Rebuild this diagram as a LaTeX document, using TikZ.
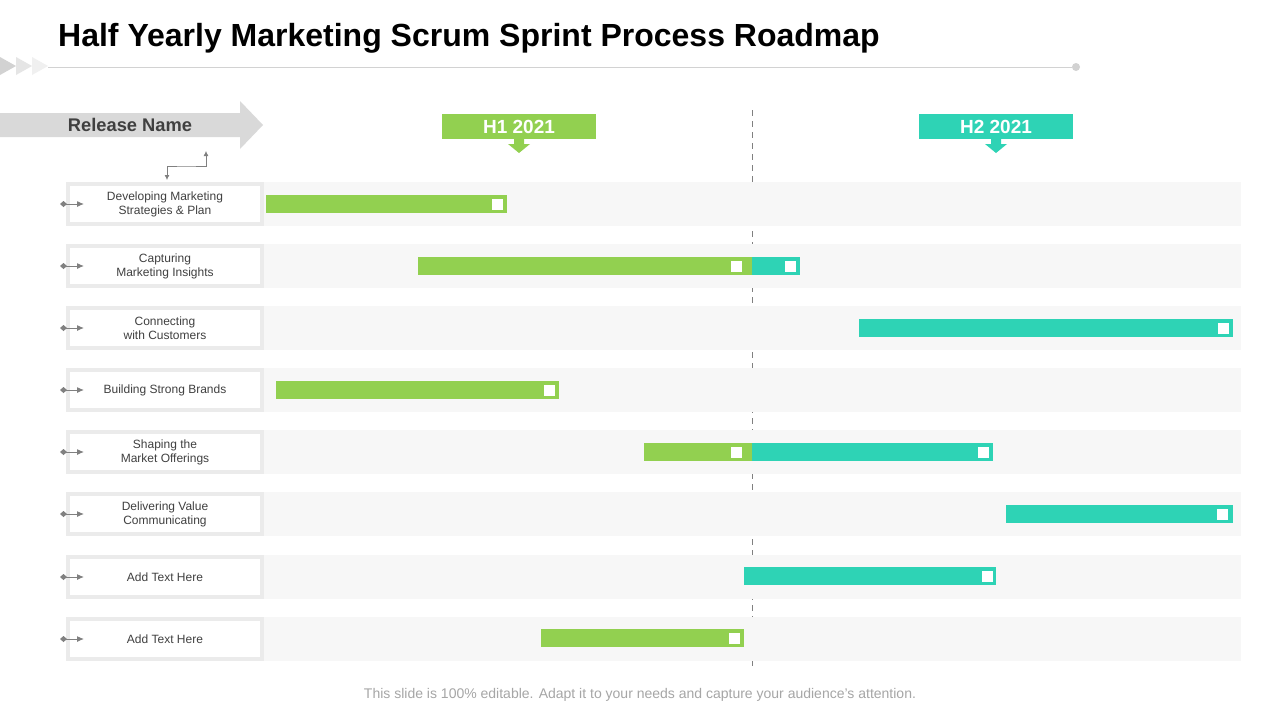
\documentclass[tikz,border=0pt]{standalone}
\usepackage{fontspec}
\setmainfont{Liberation Sans}
\usetikzlibrary{arrows.meta}
\definecolor{hgreen}{HTML}{92D050}
\definecolor{hteal}{HTML}{2ED3B5}
\definecolor{bandgray}{HTML}{F7F7F7}
\definecolor{boxline}{HTML}{EBEBEB}
\definecolor{icongray}{HTML}{808080}
\definecolor{txtgray}{HTML}{404040}
\definecolor{headgray}{HTML}{D9D9D9}
\begin{document}
\begin{tikzpicture}[x=1pt,y=-1pt,
  labelbox/.style={draw=boxline,line width=4pt,fill=white,minimum width=194pt,minimum height=40pt,
    align=center,text=txtgray,font=\fontsize{12}{14}\selectfont,inner sep=0pt},
  iconarrow/.style={draw=icongray,line width=1pt,{Diamond[length=7pt,width=6pt]}-{Latex[length=7pt,width=6pt]}},
  band/.style={fill=bandgray},
  sq/.style={fill=white,minimum size=11pt,inner sep=0pt},
  halfbox/.style={minimum width=154pt,minimum height=25pt,inner sep=0pt,text=white,
    font=\bfseries\fontsize{19}{22}\selectfont},
]
\useasboundingbox (0,0) rectangle (1280,720);
\fill[white] (0,0) rectangle (1280,720);

% title
\node[anchor=base west,inner sep=0pt,font=\bfseries\fontsize{32}{38}\selectfont] (title) at (58,46) {Half Yearly Marketing Scrum Sprint Process Roadmap};
\fill[gray!35] (0,57) -- (16,66) -- (0,75) -- cycle;
\fill[gray!20] (16,57) -- (32,66) -- (16,75) -- cycle;
\fill[gray!12] (32,57) -- (48,66) -- (32,75) -- cycle;
\coordinate (lineL) at (48,67);
\node[circle,fill=gray!35,minimum size=8pt,inner sep=0pt] (lineR) at (1076,67) {};
\draw[gray!35,line width=1pt] (lineL) -- (lineR);

% dashed divider
\coordinate (dtop) at (752,110);
\coordinate (dbot) at (752,666);
\draw[icongray,line width=0.8pt,dash pattern=on 6pt off 5pt] (dtop) -- (dbot);

% release name arrow
\fill[headgray] (0,113) -- (240,113) -- (240,101) -- (263,125) -- (240,149) -- (240,137) -- (0,137) -- cycle;
\node[text=txtgray,font=\bfseries\fontsize{18.3}{20}\selectfont] (rel) at (130,125) {Release Name};

% half-year headers
\node[halfbox,fill=hgreen] (h1) at (519,126.5) {H1 2021};
\node[halfbox,fill=hteal] (h2) at (996,126.5) {H2 2021};
\fill[hgreen] (514,139) -- (524,139) -- (524,144) -- (530,144) -- (519,153) -- (508,144) -- (514,144) -- cycle;
\fill[hteal] (991,139) -- (1001,139) -- (1001,144) -- (1007,144) -- (996,153) -- (985,144) -- (991,144) -- cycle;

% rows
\foreach \n/\y/\t in {1/204/{Developing Marketing\\Strategies \& Plan},
                      2/266/{Capturing\\Marketing Insights},
                      3/328/{Connecting\\with Customers},
                      4/390/{Building Strong Brands},
                      5/452/{Shaping the\\Market Offerings},
                      6/514/{Delivering Value\\Communicating},
                      7/577/{Add Text Here},
                      8/639/{Add Text Here}}{
  \fill[band] (264,\y-22) rectangle (1241,\y+22);
  \node[labelbox] (lab\n) at (165,\y) {\t};
  \coordinate (ic\n) at (60,\y);
  \coordinate (it\n) at (84,\y);
  \draw[iconarrow] (ic\n) -- (it\n);
}

% bent connector under release name
\coordinate (bc1) at (167,180);
\coordinate (bc2) at (206,151);
\draw[icongray,line width=0.8pt,{Latex[length=5pt,width=5pt]}-{Latex[length=5pt,width=5pt]}] (bc1) |- (186,166) -| (bc2);

% bars
\fill[hgreen] (266,195) rectangle (507,213);
\node[sq] (s1) at (497,204) {};

\fill[hgreen] (418,257) rectangle (752,275);
\fill[hteal] (752,257) rectangle (800,275);
\node[sq] (s2a) at (736,266) {};
\node[sq] (s2b) at (790,266) {};

\fill[hteal] (859,319) rectangle (1233,337);
\node[sq] (s3) at (1223,328) {};

\fill[hgreen] (276,381) rectangle (559,399);
\node[sq] (s4) at (549,390) {};

\fill[hgreen] (644,443) rectangle (752,461);
\fill[hteal] (752,443) rectangle (993,461);
\node[sq] (s5a) at (736,452) {};
\node[sq] (s5b) at (983,452) {};

\fill[hteal] (1006,505) rectangle (1233,523);
\node[sq] (s6) at (1222,514) {};

\fill[hteal] (744,567) rectangle (996,585);
\node[sq] (s7) at (987,576) {};

\fill[hgreen] (541,629) rectangle (744,647);
\node[sq] (s8) at (734,638) {};

% footer
\node[text=gray!70,font=\fontsize{14}{16}\selectfont] (foot) at (640,695) {This slide is 100\% editable. Adapt it to your needs and capture your audience’s attention.};
\end{tikzpicture}
\end{document}
